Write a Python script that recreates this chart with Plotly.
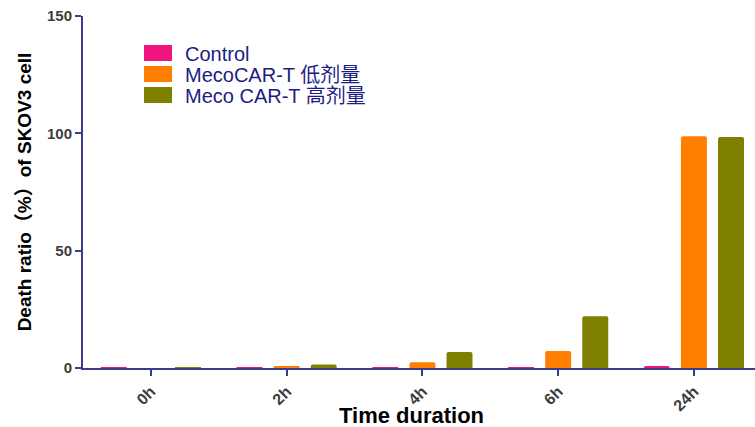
import plotly.graph_objects as go

# Time points on the x axis
categories = ["0h", "2h", "4h", "6h", "24h"]

# Death ratio (%) of SKOV3 cells per group
control = [0.4, 0.4, 0.4, 0.4, 0.9]
low_dose = [0.0, 0.8, 2.5, 7.2, 98.8]
high_dose = [0.4, 1.5, 6.8, 22.0, 98.4]

series_names = ["Control", "MecoCAR-T 低剂量", "Meco CAR-T 高剂量"]
series_values = [control, low_dose, high_dose]
series_colors = ["#f0147f", "#ff8000", "#808000"]

y_ticks = [0, 50, 100, 150]

FONT = "Liberation Sans, Arial, Noto Sans CJK SC, sans-serif"
AXIS_COLOR = "#3c3c8c"

fig = go.Figure()
for name, vals, color in zip(series_names, series_values, series_colors):
    fig.add_trace(go.Bar(
        x=categories, y=vals, name=name,
        marker=dict(color=color, line=dict(width=0), cornerradius=2),
        showlegend=False,
    ))

# Legend block: large swatches with navy labels
for i, (name, color) in enumerate(zip(series_names, series_colors)):
    yc = 53 + i * 21
    fig.add_shape(type="rect", xref="paper", yref="paper",
                  x0=(144 - 83) / 672, x1=(172 - 83) / 672,
                  y0=(368 - (yc + 8)) / 352, y1=(368 - (yc - 8)) / 352,
                  fillcolor=color, line=dict(width=0))
    fig.add_annotation(text=name, xref="paper", yref="paper",
                       x=(183 - 83) / 672, y=(368 - yc) / 352,
                       xanchor="left", yanchor="middle", showarrow=False,
                       height=21, valign="middle",
                       font=dict(family=FONT, size=20, color="#1c1c84"))

# Bottom axis title
fig.add_annotation(text="<b>Time duration</b>", xref="paper", yref="paper",
                   x=(411 - 83) / 672, y=(368 - 415) / 352,
                   xanchor="center", yanchor="middle", showarrow=False,
                   font=dict(family=FONT, size=22, color="black"))

fig.update_layout(
    width=755, height=427,
    margin=dict(l=83, r=0, t=16, b=59),
    paper_bgcolor="white", plot_bgcolor="white",
    barmode="group", bargap=0.18, bargroupgap=0.3,
    font=dict(family=FONT),
)

fig.update_xaxes(
    range=[-0.5, 4.45], automargin=False,
    showline=True, linecolor=AXIS_COLOR, linewidth=2,
    ticks="outside", ticklen=6, tickwidth=2, tickcolor=AXIS_COLOR,
    tickangle=-45,
    tickfont=dict(family=FONT, size=16, color="#3d3d3d", weight="bold"),
    showgrid=False, zeroline=False,
)

fig.update_yaxes(
    range=[0, 150], tickvals=y_ticks, automargin=False,
    showline=True, linecolor=AXIS_COLOR, linewidth=2,
    ticks="outside", ticklen=6, tickwidth=2, tickcolor=AXIS_COLOR,
    tickfont=dict(family=FONT, size=15, color="#3d3d3d", weight="bold"),
    title=dict(text="<b>Death ratio（%）of SKOV3 cell</b>", standoff=10,
               font=dict(family=FONT, size=19, color="black")),
    showgrid=False, zeroline=False,
)

fig.write_html("out.html")
